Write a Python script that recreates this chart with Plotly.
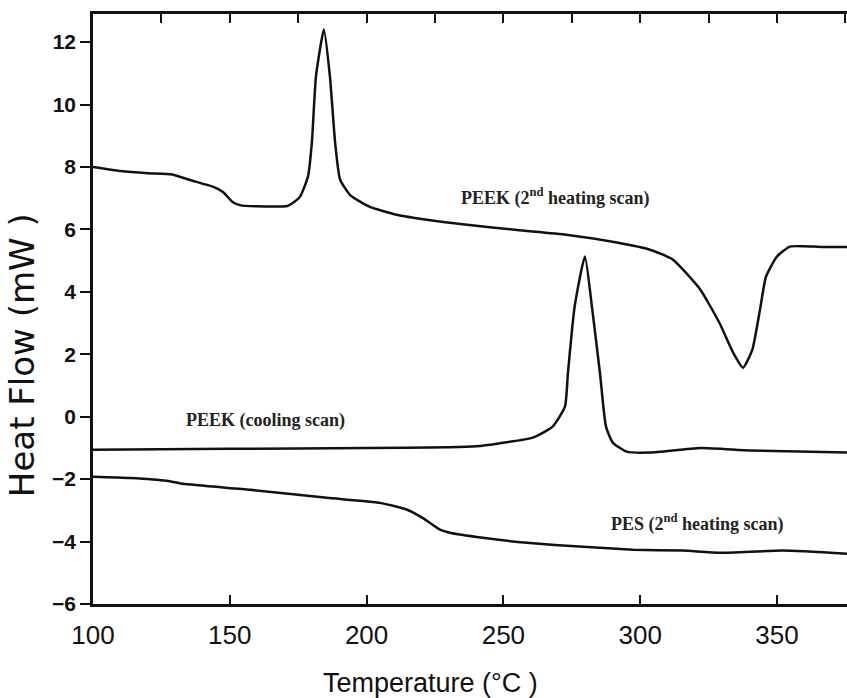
import plotly.graph_objects as go

# PEEK 2nd heating scan
peek_heat_T = [100, 110, 120, 129, 135.5, 144, 147.5, 151, 154, 160, 165, 171, 173.5, 175.7, 178.6,
               180, 181.5, 184.4, 186.6, 188.5, 190.3, 194, 201, 211, 222, 236.7, 255, 273, 291.5,
               303.6, 312, 322, 329, 334, 337.6, 341, 343.8, 346, 350, 354.7, 360, 366, 375.6]
peek_heat_v = [8.0, 7.87, 7.8, 7.76, 7.58, 7.36, 7.2, 6.88, 6.77, 6.74, 6.73, 6.75, 6.88, 7.05, 7.7,
               8.78, 10.9, 12.4, 10.9, 8.78, 7.6, 7.1, 6.73, 6.47, 6.31, 6.15, 5.98, 5.83, 5.58,
               5.35, 5.03, 4.07, 3.0, 2.05, 1.57, 2.15, 3.43, 4.49, 5.13, 5.45, 5.46, 5.44, 5.44]

# PEEK cooling scan
peek_cool_T = [100, 150, 200, 230, 240, 248.8, 260.8, 268, 272.5, 273.6, 276, 279.8, 282.4, 285.3,
               287.5, 290, 295, 303.6, 322, 340, 375.6]
peek_cool_v = [-1.06, -1.03, -1.0, -0.98, -0.95, -0.85, -0.67, -0.32, 0.32, 1.4, 3.5, 5.13, 3.5, 1.4,
               -0.32, -0.83, -1.12, -1.15, -1.0, -1.08, -1.15]

# PES 2nd heating scan
pes_T = [100, 113.5, 127, 132.9, 157.4, 185.5, 204.9, 214.8, 220.6, 226.8, 230.5, 242.5, 258.6,
         279.1, 297.4, 315.6, 329.2, 352.2, 375.6]
pes_v = [-1.92, -1.96, -2.05, -2.15, -2.34, -2.6, -2.76, -2.98, -3.25, -3.62, -3.72, -3.88, -4.04,
         -4.17, -4.26, -4.29, -4.36, -4.29, -4.39]

y_ticks = [-6, -4, -2, 0, 2, 4, 6, 8, 10, 12]
x_ticks = [100, 150, 200, 250, 300, 350]

labels = ["PEEK (2<sup>nd</sup> heating scan)", "PEEK (cooling scan)", "PES (2<sup>nd</sup> heating scan)"]
label_x = [269, 163, 321]
label_y = [7.05, -0.13, -3.4]

x_range = [100, 375.6]
y_range = [-6, 12.9]

fig = go.Figure()
line = dict(color="#111111", width=2.5, shape="spline", smoothing=0.5)
fig.add_trace(go.Scatter(x=peek_heat_T, y=peek_heat_v, mode="lines", line=line, showlegend=False))
fig.add_trace(go.Scatter(x=peek_cool_T, y=peek_cool_v, mode="lines", line=line, showlegend=False))
fig.add_trace(go.Scatter(x=pes_T, y=pes_v, mode="lines", line=line, showlegend=False))
# dummy trace for top axis
fig.add_trace(go.Scatter(x=x_range, y=[None, None], mode="lines", xaxis="x2", showlegend=False,
                         hoverinfo="skip"))

for t, x, y in zip(labels, label_x, label_y):
    fig.add_annotation(x=x, y=y, text=t, showarrow=False,
                       font=dict(family="Liberation Serif", size=18, color="#222222", weight="bold"))

fig.add_annotation(xref="paper", yref="paper", x=0.447, y=-0.134, xanchor="center", yanchor="middle",
                   text="Temperature (°C )", showarrow=False,
                   font=dict(family="Liberation Sans", size=27, color="#111111"))
fig.add_annotation(xref="paper", yref="paper", x=-0.094, y=0.422, xanchor="center", yanchor="middle",
                   text="Heat Flow (mW )", textangle=-90, showarrow=False,
                   font=dict(family="DejaVu Sans", size=34, color="#111111"))

fig.update_layout(
    width=847, height=698,
    margin=dict(l=93, r=0, t=14, b=94),
    paper_bgcolor="white", plot_bgcolor="white",
    xaxis=dict(range=x_range, tickvals=x_ticks, ticks="inside", ticklen=9, tickwidth=2,
               tickcolor="#111111", showline=True, linewidth=2.5, linecolor="#111111",
               showgrid=False, zeroline=False, ticklabelstandoff=6,
               tickfont=dict(family="Liberation Sans", size=26, color="#111111")),
    xaxis2=dict(range=x_range, overlaying="x", side="top", tick0=100, dtick=25, ticks="inside",
                ticklen=9, tickwidth=2, tickcolor="#111111", showline=True, linewidth=2.5,
                linecolor="#111111", showgrid=False, zeroline=False, showticklabels=False),
    yaxis=dict(range=y_range, tickvals=y_ticks, ticks="outside", ticklen=10, tickwidth=2,
               tickcolor="#111111", showline=True, linewidth=2.5, linecolor="#111111",
               showgrid=False, zeroline=False,
               tickfont=dict(family="Liberation Sans", size=21, color="#111111", weight="bold")),
)

fig.write_html("out.html")
